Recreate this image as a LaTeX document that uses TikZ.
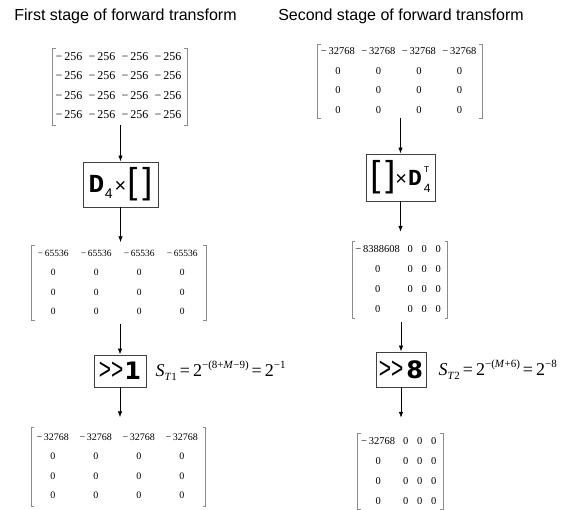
\documentclass[tikz,border=0pt]{standalone}
\usepackage{graphicx}
\usepackage{fontspec}
\setmainfont{Liberation Serif}
\setsansfont{Liberation Sans}
\newfontfamily\courf{Liberation Mono}
\newfontfamily\gtfont{Liberation Sans}
\newfontfamily\djv{DejaVu Sans}
\usetikzlibrary{arrows.meta,matrix,positioning}
\newcommand\mbrk[1]{%
  \draw[brk] ([xshift=3pt]#1.north west) -- (#1.north west) -- (#1.south west) -- ([xshift=3pt]#1.south west);
  \draw[brk] ([xshift=-3pt]#1.north east) -- (#1.north east) -- (#1.south east) -- ([xshift=-3pt]#1.south east);}
\newcommand\bigbr{{\gtfont\fontsize{36}{36}\selectfont\raisebox{-1pt}{[\hspace{5pt}]}}}
\tikzset{
  titlenode/.style={font=\sffamily\fontsize{16}{16}\selectfont, inner sep=0pt},
  mat/.style={matrix of nodes, inner xsep=1pt, inner ysep=#1, column sep=0pt, row sep=10.5pt},
  cellw/.style={nodes={inner sep=0pt, text height=7pt, text depth=2pt, minimum width=#1, align=center}},
  brk/.style={draw=black!45, line width=0.8pt},
  opbox/.style={draw=black!75, line width=0.9pt, inner sep=0pt},
  arr/.style={draw=black, line width=0.8pt, -{Latex[length=6pt,width=4.5pt]}},
  fml/.style={inner sep=0pt, font=\fontsize{18}{18}\selectfont},
}
\newcommand\scr[1]{{\fontsize{11}{11}\selectfont #1}}
\begin{document}
\begin{tikzpicture}[x=1pt,y=-1pt]
\useasboundingbox (0,0) rectangle (561,510);
% titles
\node[titlenode] (t1) at (125.5,16) {First stage of forward transform};
\node[titlenode] (t2) at (401,16) {Second stage of forward transform};

% left column
\matrix (L1) [mat=4.5pt, cellw=33pt, nodes={font=\fontsize{12}{12}\selectfont}] at (120,87) {
 −\,256 & −\,256 & −\,256 & −\,256 \\
 −\,256 & −\,256 & −\,256 & −\,256 \\
 −\,256 & −\,256 & −\,256 & −\,256 \\
 −\,256 & −\,256 & −\,256 & −\,256 \\
};
\mbrk{L1}

\node[opbox, minimum width=75pt, minimum height=45pt] (b1) at (120.5,184.5)
 {{\courf\bfseries\fontsize{26}{26}\selectfont D}\hspace{0.5pt}\raisebox{-6pt}{\sffamily\fontsize{14}{14}\selectfont 4}\hspace{2pt}{\sffamily\fontsize{20}{20}\selectfont ×}\hspace{1pt}\bigbr};

\matrix (L2) [mat=3.75pt, cellw=43pt, nodes={font=\fontsize{9.5}{10}\selectfont}] at (119,283) {
 −\,65536 & −\,65536 & −\,65536 & −\,65536 \\
 0 & 0 & 0 & 0 \\
 0 & 0 & 0 & 0 \\
 0 & 0 & 0 & 0 \\
};
\mbrk{L2}

\node[opbox, minimum width=52pt, minimum height=32pt] (b3) at (120,371)
 {{\gtfont\fontsize{30}{30}\selectfont\scalebox{0.7}[1]{>\kern0pt>}}\hspace{1pt}{\djv\bfseries\fontsize{24}{24}\selectfont 1}};
\node[fml, anchor=west, right=9pt of b3] (f1)
 {\textit{S}\raisebox{-4pt}{\scr{\textit{T}1}}\,=\,2\raisebox{8pt}{\scr{−(8+\textit{M}−9)}}\,=\,2\raisebox{8pt}{\scr{−1}}};

\matrix (L3) [mat=5.75pt, cellw=43pt, nodes={font=\fontsize{10}{10}\selectfont}] at (118.5,467) {
 −\,32768 & −\,32768 & −\,32768 & −\,32768 \\
 0 & 0 & 0 & 0 \\
 0 & 0 & 0 & 0 \\
 0 & 0 & 0 & 0 \\
};
\mbrk{L3}

% right column
\matrix (R1) [mat=2.75pt, cellw=40.5pt, nodes={font=\fontsize{10.5}{11}\selectfont}] at (400,81.5) {
 −\,32768 & −\,32768 & −\,32768 & −\,32768 \\
 0 & 0 & 0 & 0 \\
 0 & 0 & 0 & 0 \\
 0 & 0 & 0 & 0 \\
};
\mbrk{R1}

\node[opbox, minimum width=69pt, minimum height=47pt] (b2) at (400.5,177.5)
 {\bigbr{\sffamily\fontsize{20}{20}\selectfont ×}\hspace{1pt}{\courf\bfseries\fontsize{23}{23}\selectfont D}\hspace{2pt}\raisebox{13pt}{\rlap{\courf\fontsize{9}{9}\selectfont T}}\raisebox{-7pt}{\sffamily\fontsize{12}{12}\selectfont 4}};

\matrix (R2) [mat=3.5pt, cellw=14pt, column 1/.style={nodes={minimum width=51pt}}, row sep=11pt, nodes={font=\fontsize{10.5}{11}\selectfont}] at (400,280) {
 −\,8388608 & 0 & 0 & 0 \\
 0 & 0 & 0 & 0 \\
 0 & 0 & 0 & 0 \\
 0 & 0 & 0 & 0 \\
};
\mbrk{R2}

\node[opbox, minimum width=50pt, minimum height=35pt] (b4) at (401,369.5)
 {{\gtfont\fontsize{30}{30}\selectfont\scalebox{0.7}[1]{>\kern0pt>}}\hspace{3pt}{\djv\bfseries\fontsize{24}{24}\selectfont 8}};
\node[fml, anchor=west, right=12pt of b4] (f2)
 {\textit{S}\raisebox{-4pt}{\scr{\textit{T}2}}\,=\,2\raisebox{8pt}{\scr{−(\textit{M}+6)}}\,=\,2\raisebox{8pt}{\scr{−8}}};

\matrix (R3) [mat=3pt, cellw=14pt, column 1/.style={nodes={minimum width=41pt}}, row sep=11pt, nodes={font=\fontsize{10.5}{11}\selectfont}] at (400.5,471.5) {
 −\,32768 & 0 & 0 & 0 \\
 0 & 0 & 0 & 0 \\
 0 & 0 & 0 & 0 \\
 0 & 0 & 0 & 0 \\
};
\mbrk{R3}

% arrows
\draw[arr] (b1.north |- L1.south) -- (b1.north);
\draw[arr, shorten >=3pt] (b1.south) -- (b1.south |- L2.north);
\draw[arr, shorten <=3pt] (b3.north |- L2.south) -- (b3.north);
\draw[arr, shorten >=10pt] (b3.south) -- (b3.south |- L3.north);
\draw[arr] (b2.north |- R1.south) -- (b2.north);
\draw[arr, shorten >=10pt] (b2.south) -- (b2.south |- R2.north);
\draw[arr, shorten <=4pt] (b4.north |- R2.south) -- (b4.north);
\draw[arr, shorten >=16pt] (b4.south) -- (b4.south |- R3.north);
\end{tikzpicture}
\end{document}
